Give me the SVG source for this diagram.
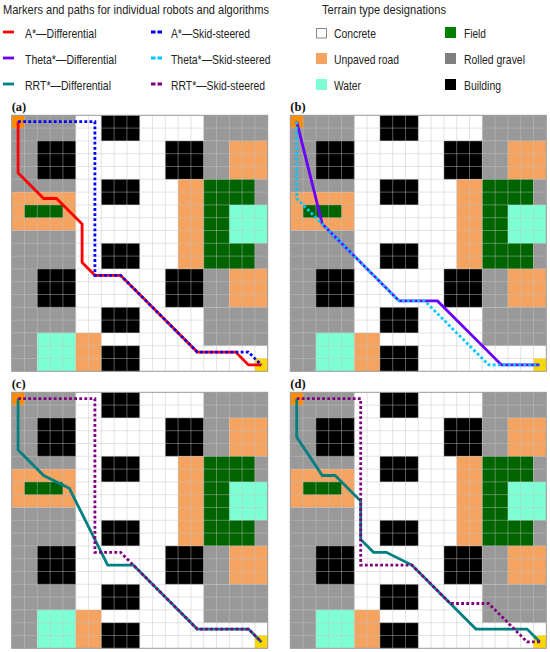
<svg xmlns="http://www.w3.org/2000/svg" xmlns:xlink="http://www.w3.org/1999/xlink" width="550" height="652" viewBox="0 0 550 652">
<style>
text{font-family:"Liberation Sans",Arial,sans-serif;font-size:12.2px;fill:#222}
text.p{font-family:"Liberation Serif","Times New Roman",serif;font-size:12.5px;font-weight:bold;fill:#111}
.g{fill:#999}.o{fill:#F4A460}.f{fill:#006400}.w{fill:#7FFFD4}.b{fill:#000}
path.l{fill:none;stroke-width:2.8;stroke-linejoin:miter}
path.d{fill:none;stroke-width:2.8;stroke-dasharray:2.8 2.3}
.red{stroke:#f00}.blue{stroke:#00f}.vio{stroke:#6a00ff}.cy{stroke:#00c8ff}.te{stroke:#008080}.pu{stroke:#800080}
</style>
<defs>
<g id="map">
<rect width="256" height="256" fill="#fff"/>
<rect class="g" x="0" y="0" width="64" height="76.8"/>
<rect class="o" x="0" y="76.8" width="64" height="38.4"/>
<rect class="g" x="0" y="115.2" width="64" height="102.4"/>
<rect class="g" x="0" y="217.6" width="25.6" height="38.4"/>
<rect class="f" x="12.8" y="89.6" width="38.4" height="12.8"/>
<rect class="b" x="25.6" y="25.6" width="38.4" height="38.4"/>
<rect class="b" x="25.6" y="153.6" width="38.4" height="38.4"/>
<rect class="w" x="25.6" y="217.6" width="38.4" height="38.4"/>
<rect class="o" x="64" y="217.6" width="25.6" height="38.4"/>
<rect class="b" x="89.6" y="0" width="38.4" height="25.6"/>
<rect class="b" x="89.6" y="64" width="38.4" height="25.6"/>
<rect class="b" x="89.6" y="128" width="38.4" height="25.6"/>
<rect class="b" x="89.6" y="192" width="38.4" height="25.6"/>
<rect class="b" x="89.6" y="230.4" width="38.4" height="25.6"/>
<rect class="b" x="153.6" y="25.6" width="38.4" height="38.4"/>
<rect class="b" x="153.6" y="153.6" width="38.4" height="38.4"/>
<rect class="o" x="166.4" y="64" width="25.6" height="89.6"/>
<rect class="g" x="192" y="0" width="64" height="25.6"/>
<rect class="g" x="192" y="25.6" width="25.6" height="38.4"/>
<rect class="o" x="217.6" y="25.6" width="38.4" height="38.4"/>
<rect class="f" x="192" y="64" width="51.2" height="89.6"/>
<rect class="g" x="243.2" y="64" width="12.8" height="89.6"/>
<rect class="w" x="217.6" y="89.6" width="38.4" height="38.4"/>
<rect class="g" x="192" y="153.6" width="25.6" height="38.4"/>
<rect class="o" x="217.6" y="153.6" width="38.4" height="38.4"/>
<rect class="g" x="192" y="192" width="64" height="38.4"/>
<rect x="0" y="0" width="12.8" height="12.8" fill="#FF8C00"/>
<rect x="243.2" y="243.2" width="12.8" height="12.8" fill="#FFD700"/>
<path fill="none" stroke="#c4c4c4" stroke-opacity=".45" stroke-width="1" d="M12.8 0V256M25.6 0V256M38.4 0V256M51.2 0V256M64 0V256M76.8 0V256M89.6 0V256M102.4 0V256M115.2 0V256M128 0V256M140.8 0V256M153.6 0V256M166.4 0V256M179.2 0V256M192 0V256M204.8 0V256M217.6 0V256M230.4 0V256M243.2 0V256M0 12.8H256M0 25.6H256M0 38.4H256M0 51.2H256M0 64H256M0 76.8H256M0 89.6H256M0 102.4H256M0 115.2H256M0 128H256M0 140.8H256M0 153.6H256M0 166.4H256M0 179.2H256M0 192H256M0 204.8H256M0 217.6H256M0 230.4H256M0 243.2H256"/>
<rect x="0" y="0" width="256" height="256" fill="none" stroke="#999" stroke-width="1"/>
</g>
</defs>
<g id="legend-paths">
<text x="3" y="14" textLength="266" lengthAdjust="spacingAndGlyphs">Markers and paths for individual robots and algorithms</text>
<path class="l red" d="M3 32H14"/><text x="25" y="38" textLength="71.500" lengthAdjust="spacingAndGlyphs">A*—Differential</text>
<path class="l vio" d="M3 58H14"/><text x="25" y="64" textLength="91.500" lengthAdjust="spacingAndGlyphs">Theta*—Differential</text>
<path class="l te" d="M3 84H14"/><text x="25" y="90" textLength="86" lengthAdjust="spacingAndGlyphs">RRT*—Differential</text>
<path class="l blue" style="stroke-dasharray:4.500 2" d="M151 32H162"/><text x="171" y="38" textLength="79" lengthAdjust="spacingAndGlyphs">A*—Skid-steered</text>
<path class="l cy" style="stroke-dasharray:4.500 2" d="M151 58H162"/><text x="171" y="64" textLength="99.500" lengthAdjust="spacingAndGlyphs">Theta*—Skid-steered</text>
<path class="l pu" style="stroke-dasharray:4.500 2" d="M151 84H162"/><text x="171" y="90" textLength="94" lengthAdjust="spacingAndGlyphs">RRT*—Skid-steered</text>
</g>
<g id="legend-terrain">
<text x="322" y="14" textLength="124" lengthAdjust="spacingAndGlyphs">Terrain type designations</text>
<rect x="316.500" y="28.500" width="10" height="9.500" fill="#fff" stroke="#888"/><text x="334" y="38" textLength="42" lengthAdjust="spacingAndGlyphs">Concrete</text>
<rect x="316" y="53" width="11" height="11" fill="#F4A460"/><text x="334" y="64" textLength="65" lengthAdjust="spacingAndGlyphs">Unpaved road</text>
<rect x="316" y="79" width="11" height="11" fill="#7FFFD4"/><text x="334" y="90" textLength="27" lengthAdjust="spacingAndGlyphs">Water</text>
<rect x="445" y="27" width="11" height="11" fill="#008000"/><text x="464" y="38" textLength="22" lengthAdjust="spacingAndGlyphs">Field</text>
<rect x="445" y="53" width="11" height="11" fill="#808080"/><text x="464" y="64" textLength="61" lengthAdjust="spacingAndGlyphs">Rolled gravel</text>
<rect x="445" y="79" width="11" height="11" fill="#000"/><text x="464" y="90" textLength="37" lengthAdjust="spacingAndGlyphs">Building</text>
</g>
<g id="panel-a" transform="translate(11.700 115.300)">
<text class="p" x="0" y="-4">(a)</text>
<use xlink:href="#map" href="#map"/>
<g id="paths-a">
<path class="l red" d="M6.400 6.400V57.600L32 83.200H44.800L70.400 108.800V147.200L83.200 160H108.800L185.600 236.800H224L236.800 249.600H249.600"/>
<path class="d blue" d="M6.400 6.400H83.200V160H108.800L185.600 236.800H236.800L249.600 249.600"/>
</g>
</g>
<g id="panel-b" transform="translate(290.300 115.300)">
<text class="p" x="0" y="-4">(b)</text>
<use xlink:href="#map" href="#map"/>
<g id="paths-b">
<path class="l vio" d="M6.400 6.400L32 108.800L108.800 185.600H147.200L211.200 249.600H249.600"/>
<path class="d cy" d="M6.400 6.400V83.200L32 108.800L108.800 185.600H134.400L198.400 249.600H249.600"/>
</g>
</g>
<g id="panel-c" transform="translate(11.700 392.300)">
<text class="p" x="0" y="-4">(c)</text>
<use xlink:href="#map" href="#map"/>
<g id="paths-c">
<path class="l te" d="M6.400 6.400V57.600L32 83.200L57.600 96L96 172.800H121.600L185.600 236.800H236.800L249.600 249.600"/>
<path class="d pu" d="M6.400 6.400H83.200V160H108.800L185.600 236.800H236.800L249.600 249.600"/>
</g>
</g>
<g id="panel-d" transform="translate(290.300 392.300)">
<text class="p" x="0" y="-4">(d)</text>
<use xlink:href="#map" href="#map"/>
<g id="paths-d">
<path class="l te" d="M6.400 6.400V44.800L32 83.200H44.800L70.400 108.800V147.200L83.200 160H96L121.600 172.800L185.600 236.800H236.800L249.600 249.600"/>
<path class="d pu" d="M6.400 6.400H70.400V172.800H121.600L160 211.200H198.400L236.800 249.600H249.600"/>
</g>
</g>
</svg>
